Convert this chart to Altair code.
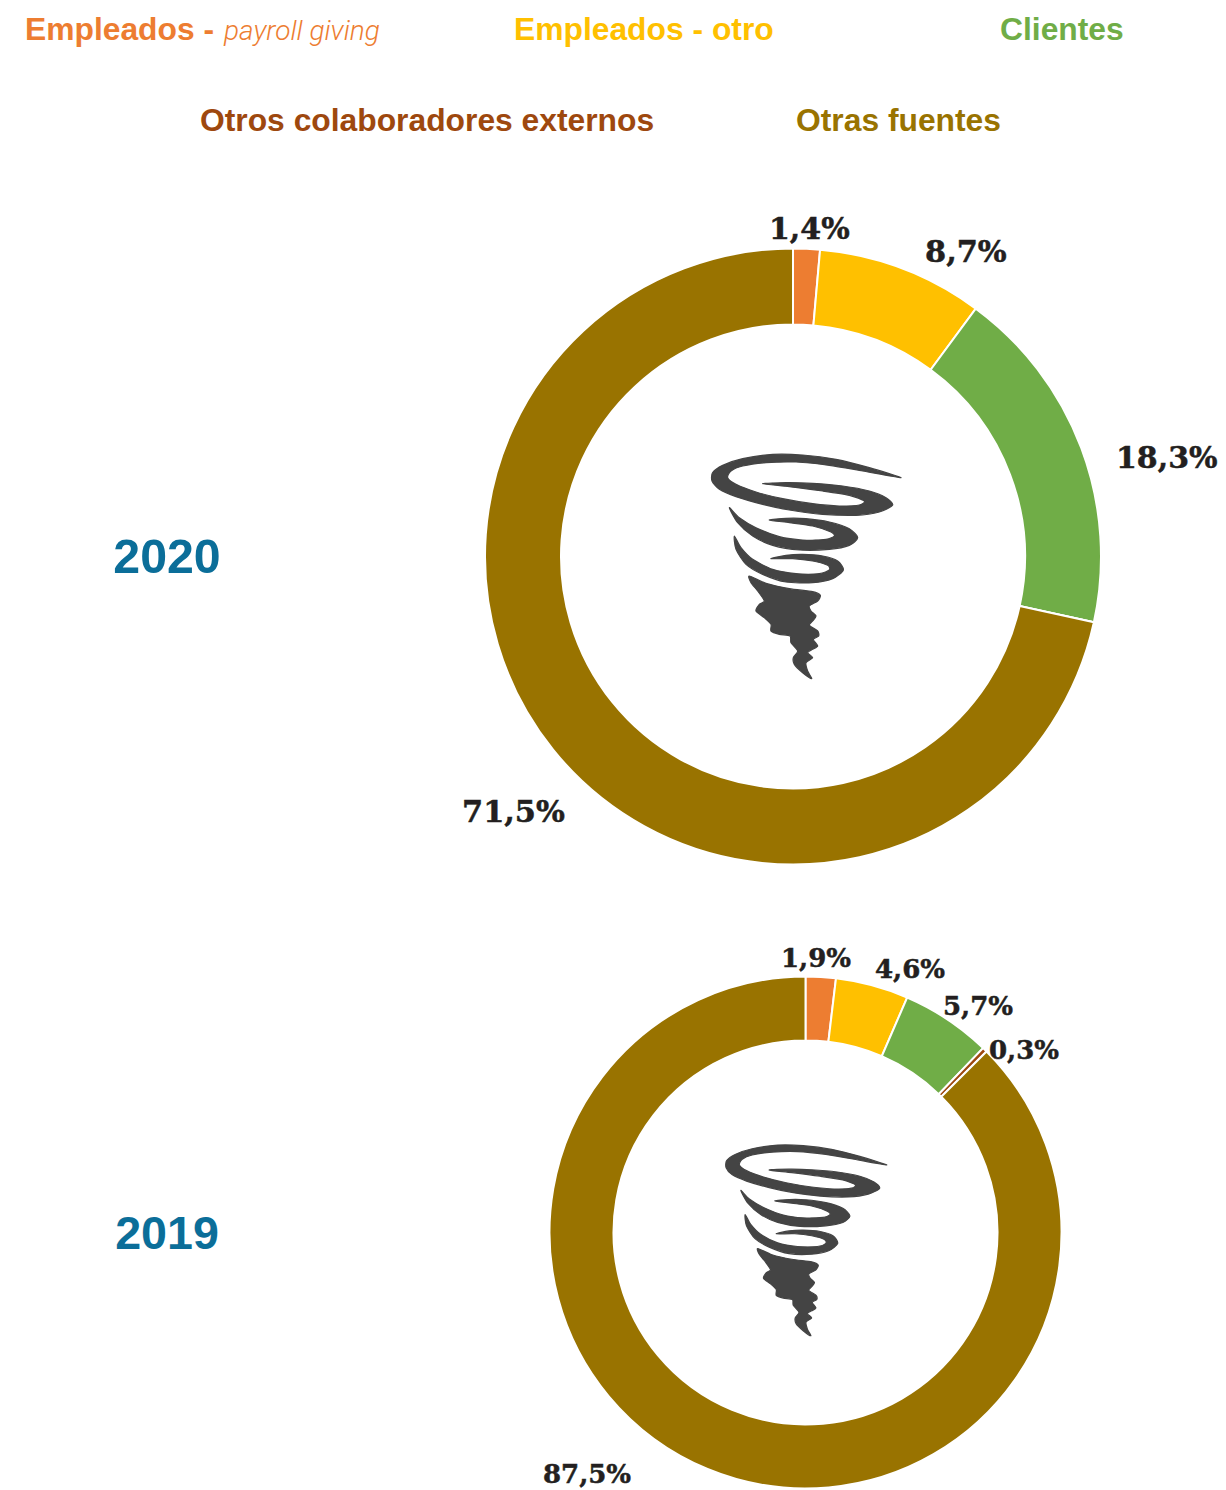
import math
import altair as alt
import pandas as pd

categories = ["Empleados - payroll giving", "Empleados - otro", "Clientes",
              "Otros colaboradores externos", "Otras fuentes"]
colors = ["#ED7D31", "#FFC000", "#70AD47", "#9E480E", "#997300"]
values_2020 = [1.4, 8.7, 18.3, 0.0, 71.5]
values_2019 = [1.9, 4.6, 5.7, 0.3, 87.5]
label_color = "#231F20"
year_color = "#0B6E99"
icon_color = "#444444"

ICON = [
    [(635,115),(540,85),(440,60),(340,47),(250,45),(160,58),(100,78),(70,100),(68,125),(90,150),(140,172),(220,195),(300,212),(400,225),(500,228),(570,218),(610,197),(590,175),(540,155),(460,140),(370,132),(290,130),(220,133),(300,142),(400,155),(480,168),(525,185),(510,197),(450,200),(370,193),(280,178),(200,158),(140,135),(115,115),(125,95),(160,80),(230,70),(320,68),(420,78),(520,95)],
    [(120,205),(145,250),(190,290),(250,318),(330,332),(420,330),(480,318),(505,295),(480,268),(420,248),(350,238),(290,237),(240,242),(300,250),(370,260),(425,278),(435,290),(410,300),(340,302),(270,292),(200,265),(150,235)],
    [(135,290),(140,330),(170,375),(220,405),(290,428),(370,430),(430,418),(462,392),(445,365),(400,350),(340,345),(290,348),(245,358),(310,358),(370,365),(415,378),(420,392),(390,403),(320,403),(250,390),(190,360),(155,325)],
    [(180,410),(230,432),(300,448),(370,457),(393,468),(385,485),(360,500),(365,515),(380,530),(370,545),(360,558),(385,575),(388,590),(372,600),(385,620),(370,630),(355,640),(370,655),(350,670),(355,695),(367,718),(340,700),(315,675),(312,655),(325,635),(305,610),(302,590),(270,585),(245,575),(245,555),(225,535),(200,515),(210,495),(225,485),(205,455),(185,430)],
]


def icon_path():
    def n(p):
        return ((p[0] - 350) / 360, (p[1] - 380) / 360)
    out = []
    for poly in ICON:
        pts = [n(p) for p in poly]
        m = len(pts)
        s = f"M{pts[0][0]:.4f},{pts[0][1]:.4f}"
        for i in range(m):
            p0, p1, p2, p3 = pts[i - 1], pts[i], pts[(i + 1) % m], pts[(i + 2) % m]
            k = 0.12
            c1 = (p1[0] + (p2[0] - p0[0]) * k, p1[1] + (p2[1] - p0[1]) * k)
            c2 = (p2[0] - (p3[0] - p1[0]) * k, p2[1] - (p3[1] - p1[1]) * k)
            s += f"C{c1[0]:.4f},{c1[1]:.4f} {c2[0]:.4f},{c2[1]:.4f} {p2[0]:.4f},{p2[1]:.4f}"
        out.append(s + "Z")
    return "".join(out)


OX, OY = 8, 8
color_scale = alt.Scale(domain=categories, range=colors)


def donut(vals, cx, cy, r_out, r_in):
    df = pd.DataFrame({"categoria": categories, "valor": vals, "orden": range(len(vals))})
    return alt.Chart(df).mark_arc(radius=r_out, radius2=r_in, stroke="white", strokeWidth=2).encode(
        x=alt.value(cx - OX), y=alt.value(cy - OY),
        theta=alt.Theta("valor:Q", stack=True,
                        scale=alt.Scale(domain=[0, sum(vals)], range=[0, 2 * math.pi])),
        order=alt.Order("orden:Q"),
        color=alt.Color("categoria:N", scale=color_scale, legend=None),
    )


def text(s, x, y, size, color, font="Liberation Sans", weight="bold", style="normal",
         align="left", baseline="alphabetic", stroke=0):
    kw = dict(stroke=color, strokeWidth=stroke) if stroke else {}
    return alt.Chart(pd.DataFrame({"t": [s]})).mark_text(
        font=font, fontSize=size, fontWeight=weight, fontStyle=style,
        color=color, align=align, baseline=baseline, **kw,
    ).encode(x=alt.value(x - OX), y=alt.value(y - OY), text="t:N")


def icon(cx, cy, scale):
    return alt.Chart(pd.DataFrame({"i": [0]})).mark_point(
        shape=icon_path(), size=(2 * scale) ** 2, filled=True, fill=icon_color, stroke=icon_color,
        strokeWidth=1.2, opacity=1,
    ).encode(x=alt.value(cx - OX), y=alt.value(cy - OY))


layers = [
    donut(values_2020, 793, 556.5, 308, 232),
    donut(values_2019, 805.5, 1232.5, 256, 192),
    icon(806, 566, 120),
    icon(806, 1240, 102),
    text("Empleados - ", 25, 40, 31.8, colors[0]),
    text("payroll giving", 224, 40, 28, colors[0], font="Roboto", weight=300, style="italic"),
    text("Empleados - otro", 514, 40, 31.8, colors[1]),
    text("Clientes", 1000, 40, 31.8, colors[2]),
    text("Otros colaboradores externos", 200, 131, 31.8, colors[3]),
    text("Otras fuentes", 796, 131, 31.8, colors[4]),
    text("2020", 167, 559, 48.3, year_color, align="center", baseline="middle"),
    text("2019", 167, 1235, 46.6, year_color, align="center", baseline="middle"),
]

labels = [
    ("1,4%", 769, 239, 30), ("8,7%", 925, 262, 30.4), ("18,3%", 1116, 468, 30), ("71,5%", 462, 822, 30.4),
    ("1,9%", 781, 967, 26), ("4,6%", 875, 978, 26), ("5,7%", 943, 1015, 26), ("0,3%", 989, 1059, 26),
    ("87,5%", 543, 1483, 26),
]
for s, x, y, size in labels:
    layers.append(text(s, x, y, size, label_color, font="DejaVu Serif", stroke=0.5))

chart = alt.layer(*layers).resolve_scale(theta="independent").properties(
    width=1210, height=1482, padding=0, autosize="none",
).configure_view(stroke=None)

chart.save("out.html", embed_options={"renderer": "svg", "actions": False})
